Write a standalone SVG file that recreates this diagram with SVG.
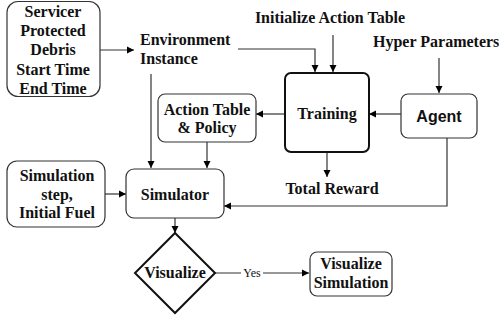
<svg xmlns="http://www.w3.org/2000/svg" width="499" height="322" viewBox="0 0 499 322">
<defs>
<marker id="ah" markerWidth="8" markerHeight="8" refX="7" refY="4" orient="auto" markerUnits="userSpaceOnUse">
<path d="M0,0.5 L7,4 L0,7.5 Z" fill="#000"/>
</marker>
<style>
.box{fill:#fff;stroke:#333;stroke-width:1.2}
.thick{fill:#fff;stroke:#111;stroke-width:2}
.c{fill:none;stroke:#333;stroke-width:1.2}
</style>
</defs>
<rect width="499" height="322" fill="#fff"/>
<g id="connectors">
<path class="c" d="M100,50 L134,50" marker-end="url(#ah)"/>
<path class="c" d="M238,49 L315,49 L315,72" marker-end="url(#ah)"/>
<path class="c" d="M333,35 L333,72" marker-end="url(#ah)"/>
<path class="c" d="M439,58 L439,93" marker-end="url(#ah)"/>
<path class="c" d="M401,114 L369,114" marker-end="url(#ah)"/>
<path class="c" d="M285,114 L256,114" marker-end="url(#ah)"/>
<path class="c" d="M151,74 L151,168" marker-end="url(#ah)"/>
<path class="c" d="M207,142 L207,168" marker-end="url(#ah)"/>
<path class="c" d="M105,194 L126,194" marker-end="url(#ah)"/>
<path class="c" d="M327,153 L327,177" marker-end="url(#ah)"/>
<path class="c" d="M447,138 L447,206 L224,206" marker-end="url(#ah)"/>
<path class="c" d="M175,218 L175,233" marker-end="url(#ah)"/>
<path class="c" d="M215,273 L309,273" marker-end="url(#ah)"/>
<rect x="241" y="266" width="22" height="13" fill="#fff"/>
<text x="252" y="277" font-family="Liberation Serif, serif" font-size="12" fill="#111" text-anchor="middle">Yes</text>
</g>
<g font-family="Liberation Serif, Times New Roman, serif" font-weight="bold" font-size="16" fill="#111" text-anchor="middle">
<g id="servicer">
<rect class="box" x="7" y="1.5" width="93" height="95" rx="11"/>
<text x="53" y="17">Servicer</text>
<text x="53" y="36">Protected</text>
<text x="53" y="55">Debris</text>
<text x="53" y="75">Start Time</text>
<text x="53" y="94">End Time</text>
</g>
<g id="environment" text-anchor="start">
<text x="140" y="45">Environment</text>
<text x="140" y="64">Instance</text>
</g>
<g id="init-action-table">
<text x="330" y="23">Initialize Action Table</text>
</g>
<g id="hyper-parameters" text-anchor="start">
<text x="373" y="47">Hyper Parameters</text>
</g>
<g id="training">
<rect class="thick" x="285" y="73" width="84" height="79" rx="6"/>
<text x="327" y="119">Training</text>
</g>
<g id="agent">
<rect class="box" x="401" y="94" width="76" height="44" rx="7"/>
<text x="439" y="122" font-family="Liberation Sans, Arial, sans-serif" font-size="16">Agent</text>
</g>
<g id="action-table">
<rect class="box" x="158" y="94" width="98" height="48" rx="7"/>
<text x="207" y="115">Action Table</text>
<text x="207" y="133">&amp; Policy</text>
</g>
<g id="simulation-step">
<rect class="box" x="7" y="161" width="98" height="66" rx="10"/>
<text x="57" y="181">Simulation</text>
<text x="57" y="200">step,</text>
<text x="57" y="218">Initial Fuel</text>
</g>
<g id="simulator">
<rect class="box" x="126" y="169" width="98" height="49" rx="8"/>
<text x="175" y="200">Simulator</text>
</g>
<g id="total-reward">
<text x="332" y="194">Total Reward</text>
</g>
<g id="visualize">
<polygon class="thick" points="175,233 215,273 175,313 135,273"/>
<text x="175" y="278">Visualize</text>
</g>
<g id="visualize-simulation">
<rect class="box" x="310" y="252" width="82" height="44" rx="7"/>
<text x="351" y="269">Visualize</text>
<text x="351" y="288">Simulation</text>
</g>
</g>
</svg>
